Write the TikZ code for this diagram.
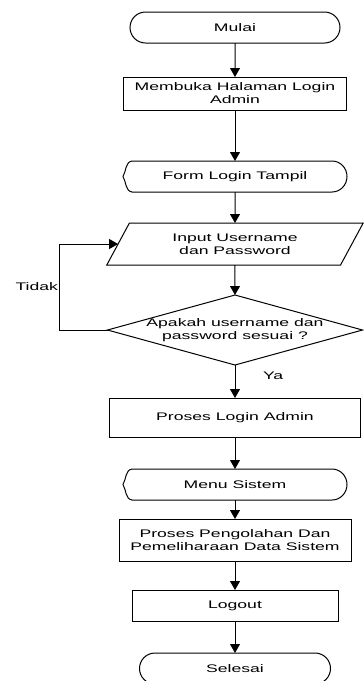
\documentclass[tikz,border=0pt]{standalone}
\usepackage{fontspec}
\setmainfont[FakeStretch=1.6]{Liberation Sans}
\usepackage{tikz}
\usetikzlibrary{positioning,shapes.geometric,shapes.misc,arrows.meta}

\tikzset{
  huruf/.style={font=\fontsize{11pt}{13pt}\selectfont, outer sep=0pt},
  proses/.style={draw, huruf, align=center, inner sep=0pt},
  terminal/.style={draw, rounded rectangle, huruf, minimum height=31pt, inner sep=0pt},
  tampil/.style={huruf, minimum width=224pt, minimum height=31pt, inner sep=0pt},
  masukan/.style={draw, trapezium, trapezium left angle=57, trapezium right angle=123,
    trapezium stretches=true, huruf, align=center, inner sep=0pt},
  keputusan/.style={draw, diamond, aspect=3.64, huruf, align=center, inner sep=-2pt},
  alur/.style={-{Triangle[width=10pt,length=9pt]}},
}

\begin{document}
\begin{tikzpicture}[x=1pt, y=1pt, line width=1pt]
		\useasboundingbox (0,0) rectangle (364,-681);
		% Start
		\node[terminal, minimum width=210pt] (mulai) at (235,-27.5) {Mulai} ;
		\node[proses, below=34pt of mulai, minimum width=223pt, minimum height=33pt] (buka) {Membuka Halaman Login\\Admin} ;
		\node[tampil, below=51pt of buka] (form) {Form Login Tampil} ;
		\node[masukan, below=31pt of form, minimum width=257pt, minimum height=42pt] (input) {Input Username\\dan Password} ;
		% Check
		\node[keputusan, below=30pt of input, minimum width=255pt, minimum height=70pt] (cek) {Apakah username dan\\password sesuai ?} ;
		\node[proses, below=33pt of cek, minimum width=251pt, minimum height=39pt] (login) {Proses Login Admin} ;
		\node[tampil, below=32pt of login] (menu) {Menu Sistem} ;
		\node[proses, below=19pt of menu, minimum width=232pt, minimum height=42pt] (olah) {Proses Pengolahan Dan\\Pemeliharaan Data Sistem} ;
		\node[proses, below=29pt of olah, minimum width=206pt, minimum height=31pt] (logout) {Logout} ;
		% End
		\node[terminal, below=32pt of logout, minimum width=191pt] (selesai) {Selesai} ;

		% display outline
		\foreach \n in {form,menu}
		  \draw ([xshift=9pt]\n.north west) -- ([xshift=-15pt]\n.north east)
		    arc[start angle=90, end angle=-90, x radius=15pt, y radius=15.5pt]
		    -- ([xshift=9pt]\n.south west) to[out=170, in=-60] (\n.west)
		    to[out=60, in=-170] ([xshift=9pt]\n.north west) ;

		\draw[alur] (mulai) -- (buka) ;
		\draw[alur] (buka) -- (form) ;
		\draw[alur] (form) -- (input) ;
		\draw[alur] (input) -- (cek) ;
		\draw[alur] (cek) -- node[pos=0.33, right=28pt, huruf, inner sep=0pt] (ya) {Ya} (login) ;
		% loop back
		\draw[alur] (cek.west) -- ++(-48,0) |- node[pos=0.25, left, huruf, inner sep=1.5pt] (tidak) {Tidak} (input.west) ;
		\draw[alur] (login) -- (menu) ;
		\draw[alur] (menu) -- (olah) ;
		\draw[alur] (olah) -- (logout) ;
		\draw[alur] (logout) -- (selesai) ;
	\end{tikzpicture}
\end{document}
